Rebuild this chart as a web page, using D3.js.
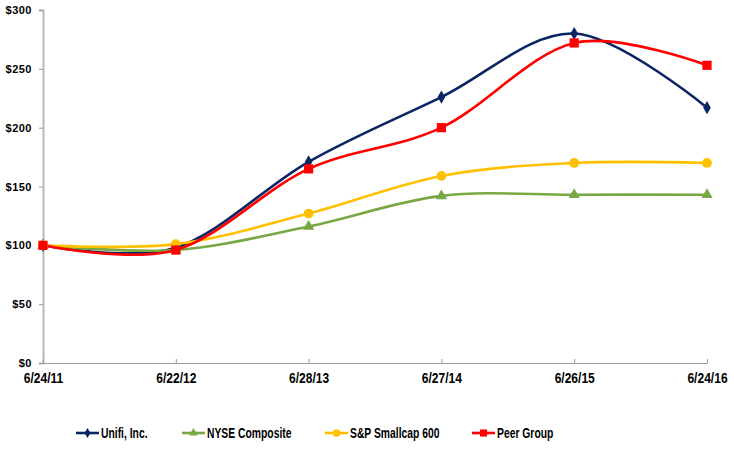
<!DOCTYPE html>
<html>
<head>
<meta charset="utf-8">
<script src="https://cdn.jsdelivr.net/npm/d3@7"></script>
<style>
  body { margin: 0; background: #fff; }
  svg text { font-family: "Liberation Sans", Arial, sans-serif; font-weight: bold; fill: #000; }
</style>
</head>
<body>
<div id="chart"></div>
<script>
// data
var dates = ["6/24/11", "6/22/12", "6/28/13", "6/27/14", "6/26/15", "6/24/16"];
var unifi = [100, 98, 171, 226, 280, 217];
var nyse = [100, 96, 116, 142, 143, 143];
var smallcap = [100, 101, 127, 159, 170, 170];
var peer = [100, 96, 165, 200, 272, 253];
var yTicks = [0, 50, 100, 150, 200, 250, 300];

var series = [
  { name: "Unifi, Inc.", values: unifi, color: "#0B2463", marker: "diamond" },
  { name: "NYSE Composite", values: nyse, color: "#77A844", marker: "triangle" },
  { name: "S&P Smallcap 600", values: smallcap, color: "#FFC000", marker: "circle" },
  { name: "Peer Group", values: peer, color: "#FF0000", marker: "square" }
];

var width = 734, height = 451;
var margin = { left: 43, right: 27, top: 10, bottom: 88 };

var svg = d3.select("#chart").append("svg")
  .attr("width", width)
  .attr("height", height);

var x = d3.scalePoint()
  .domain(dates)
  .range([margin.left, width - margin.right]);

var y = d3.scaleLinear()
  .domain([0, 300])
  .range([height - margin.bottom, margin.top]);

// y axis
var yAxis = svg.append("g")
  .attr("transform", "translate(" + margin.left + ",0)")
  .call(d3.axisLeft(y).tickValues(yTicks).tickSize(4).tickPadding(7)
    .tickFormat(function (d) { return "$" + d; }));
yAxis.select(".domain").attr("stroke", "#b8b8b8").attr("stroke-width", 2);
yAxis.selectAll(".tick line").attr("stroke", "#999");
yAxis.selectAll("text")
  .style("font-size", "11px")
  .style("letter-spacing", "0.5px");

// x axis
var xAxis = svg.append("g")
  .attr("transform", "translate(0," + y(0) + ")")
  .call(d3.axisBottom(x).tickSizeInner(-4).tickSizeOuter(0).tickPadding(10));
xAxis.select(".domain").attr("stroke", "#999").attr("stroke-width", 1.2);
xAxis.selectAll(".tick line").attr("stroke", "#999");
// narrow look of the original font
xAxis.selectAll("text")
  .style("font-size", "14px")
  .attr("transform", "scale(0.86,1)");

var line = d3.line()
  .x(function (d, i) { return x(dates[i]); })
  .y(function (d) { return y(d); })
  .curve(d3.curveCardinal.tension(0));

var symbolType = {
  diamond: d3.symbolDiamond,
  triangle: d3.symbolTriangle,
  circle: d3.symbolCircle,
  square: d3.symbolSquare
};
var symbolSize = { diamond: 50, triangle: 55, circle: 75, square: 85 };

series.forEach(function (s) {
  svg.append("path")
    .datum(s.values)
    .attr("d", line)
    .attr("fill", "none")
    .attr("stroke", s.color)
    .attr("stroke-width", 2.6);
});

series.forEach(function (s) {
  svg.selectAll(null)
    .data(s.values)
    .join("path")
    .attr("transform", function (d, i) {
      return "translate(" + x(dates[i]) + "," + y(d) + ")";
    })
    .attr("d", d3.symbol().type(symbolType[s.marker]).size(symbolSize[s.marker]))
    .attr("fill", s.color);
});

// legend
var legendX = [76, 182, 325, 472];
var legend = svg.append("g").attr("transform", "translate(0,433)");
series.forEach(function (s, i) {
  var g = legend.append("g").attr("transform", "translate(" + legendX[i] + ",0)");
  g.append("line")
    .attr("x1", 0).attr("x2", 23)
    .attr("stroke", s.color).attr("stroke-width", 2.6);
  g.append("path")
    .attr("transform", "translate(11.5,0)")
    .attr("d", d3.symbol().type(symbolType[s.marker]).size(symbolSize[s.marker] * 0.6))
    .attr("fill", s.color);
  g.append("text")
    .attr("transform", "translate(25,0) scale(0.74,1)")
    .attr("dy", "0.36em")
    .style("font-size", "14px")
    .text(s.name);
});
</script>
</body>
</html>
